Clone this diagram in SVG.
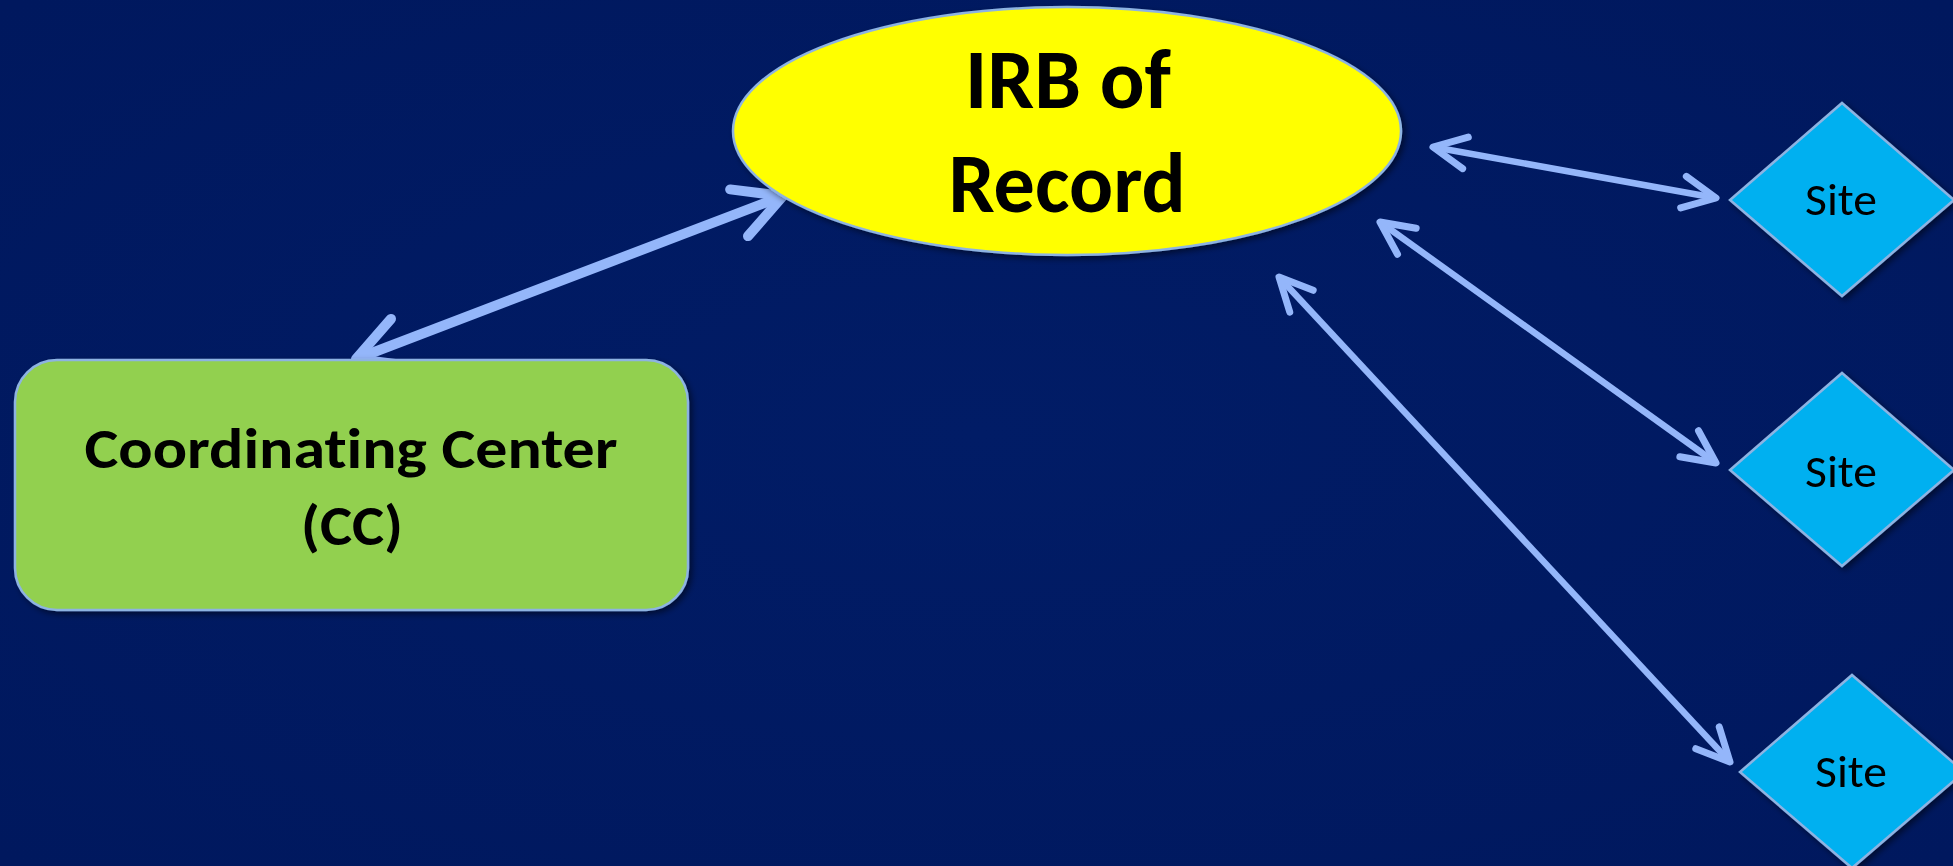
<svg xmlns="http://www.w3.org/2000/svg" width="1953" height="866" viewBox="0 0 1953 866">
  <defs>
    <radialGradient id="bg" cx="50%" cy="50%" r="70%">
      <stop offset="0" stop-color="#011C66"/>
      <stop offset="1" stop-color="#00185E"/>
    </radialGradient>
    <filter id="shadow" x="-10%" y="-10%" width="125%" height="125%">
      <feGaussianBlur in="SourceAlpha" stdDeviation="3"/>
      <feOffset dx="3" dy="3" result="b"/>
      <feComponentTransfer><feFuncA type="linear" slope="0.5"/></feComponentTransfer>
      <feMerge><feMergeNode/><feMergeNode in="SourceGraphic"/></feMerge>
    </filter>
    <marker id="headThick" markerUnits="userSpaceOnUse" markerWidth="120" markerHeight="120" refX="0" refY="0" orient="auto-start-reverse" overflow="visible">
      <path d="M -47 -25 L 0 0 L -47 25" fill="none" stroke="#94B6FA" stroke-width="10" stroke-linecap="round" stroke-linejoin="round"/>
    </marker>
    <marker id="headThin" markerUnits="userSpaceOnUse" markerWidth="80" markerHeight="80" refX="0" refY="0" orient="auto-start-reverse" overflow="visible">
      <path d="M -33 -16 L 0 0 L -33 16" fill="none" stroke="#94B6FA" stroke-width="7" stroke-linecap="round" stroke-linejoin="round"/>
    </marker>
    <style>
      .link { fill: none; stroke: #94B6FA; }
      .thick { stroke-width: 10; marker-start: url(#headThick); marker-end: url(#headThick); }
      .thin { stroke-width: 6.5; marker-start: url(#headThin); marker-end: url(#headThin); }
      .edge { stroke: #8DB3E2; stroke-width: 2.5; }
      text { font-variant-ligatures: none; }
      .bold { font-family: Carlito, Lato, "Liberation Sans", sans-serif; font-weight: bold; fill: #000; text-anchor: middle; }
      .site { font-family: Carlito, Lato, "Liberation Sans", sans-serif; font-size: 45px; fill: #000; text-anchor: middle; }
    </style>
  </defs>

  <rect width="1953" height="866" fill="url(#bg)"/>

  <g id="connectors">
    <line class="link thick" x1="356" y1="359" x2="783" y2="196"/>
    <line class="link thin" x1="1433" y1="147" x2="1716" y2="198"/>
    <line class="link thin" x1="1380" y1="222" x2="1716" y2="463"/>
    <line class="link thin" x1="1279" y1="277" x2="1730" y2="762"/>
  </g>

  <g id="irb" filter="url(#shadow)">
    <ellipse cx="1067" cy="131" rx="334" ry="124" fill="#FFFF00" class="edge"/>
    <text class="bold" x="1068" y="108" font-size="84" textLength="206" lengthAdjust="spacingAndGlyphs">IRB of</text>
    <text class="bold" x="1067" y="212" font-size="84" textLength="237" lengthAdjust="spacingAndGlyphs">Record</text>
  </g>

  <g id="cc" filter="url(#shadow)">
    <rect x="15" y="360" width="673" height="250" rx="42" ry="42" fill="#92D050" class="edge"/>
    <text class="bold" x="351" y="468" font-size="57" textLength="533" lengthAdjust="spacingAndGlyphs">Coordinating Center</text>
    <text class="bold" x="352" y="545" font-size="57" textLength="102" lengthAdjust="spacingAndGlyphs">(CC)</text>
  </g>

  <g id="site1" filter="url(#shadow)">
    <polygon points="1842,103 1954,200 1842,296 1730,200" fill="#00B0F0" class="edge"/>
    <text class="site" x="1841" y="215" textLength="72" lengthAdjust="spacingAndGlyphs">Site</text>
  </g>

  <g id="site2" filter="url(#shadow)">
    <polygon points="1842,373 1954,470 1842,566 1730,470" fill="#00B0F0" class="edge"/>
    <text class="site" x="1841" y="487" textLength="72" lengthAdjust="spacingAndGlyphs">Site</text>
  </g>

  <g id="site3" filter="url(#shadow)">
    <polygon points="1852,675 1964,772 1852,868 1740,772" fill="#00B0F0" class="edge"/>
    <text class="site" x="1851" y="787" textLength="72" lengthAdjust="spacingAndGlyphs">Site</text>
  </g>
</svg>
